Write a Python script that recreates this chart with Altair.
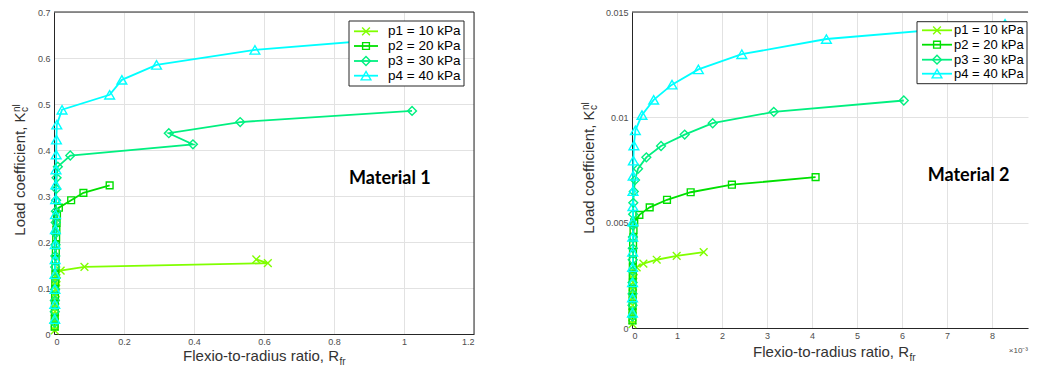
import altair as alt
import pandas as pd

# ---------------- data ----------------
series = ["p1 = 10 kPa", "p2 = 20 kPa", "p3 = 30 kPa", "p4 = 40 kPa"]
colors = ["#80ff00", "#00e000", "#00f080", "#00ffff"]
shapes = ["M-1,-1L1,1M-1,1L1,-1", "square", "diamond", "triangle-up"]
sizes = [60, 46, 78, 95]

# Material 1 (x = flexio-to-radius ratio, y = load coefficient)
m1_p1_x = [0.0020, 0.0022, 0.0024, 0.0026, 0.0028, 0.0030, 0.0033, 0.0036, 0.0039, 0.0043,
           0.0047, 0.0052, 0.0057, 0.0063, 0.0070, 0.0082, 0.019, 0.087, 0.611, 0.578]
m1_p1_y = [0.0081, 0.0162, 0.0243, 0.0324, 0.0405, 0.0486, 0.0567, 0.0648, 0.0729, 0.0810,
           0.0891, 0.0972, 0.1053, 0.1134, 0.1215, 0.1296, 0.1377, 0.1458, 0.1539, 0.1620]
m1_p2_x = [0.0020, 0.0022, 0.0024, 0.0026, 0.0029, 0.0032, 0.0035, 0.0039, 0.0043, 0.0047,
           0.0052, 0.0057, 0.0062, 0.0068, 0.0075, 0.0085, 0.014, 0.049, 0.084, 0.159]
m1_p2_y = [0.0162, 0.0323, 0.0485, 0.0646, 0.0808, 0.0969, 0.1131, 0.1292, 0.1454, 0.1615,
           0.1777, 0.1938, 0.2100, 0.2261, 0.2423, 0.2584, 0.2746, 0.2907, 0.3069, 0.3230]
m1_p3_x = [0.0020, 0.0022, 0.0025, 0.0028, 0.0031, 0.0034, 0.0038, 0.0042, 0.0046, 0.0050,
           0.0055, 0.0060, 0.0066, 0.0074, 0.011, 0.0465, 0.397, 0.328, 0.532, 1.023]
m1_p3_y = [0.0243, 0.0485, 0.0728, 0.0970, 0.1213, 0.1455, 0.1698, 0.1940, 0.2183, 0.2425,
           0.2668, 0.2910, 0.3153, 0.3395, 0.3638, 0.3880, 0.4123, 0.4365, 0.4608, 0.4850]
m1_p4_x = [0.0021, 0.0023, 0.0026, 0.0029, 0.0032, 0.0035, 0.0039, 0.0043, 0.0047, 0.0052,
           0.0057, 0.0063, 0.0070, 0.0080, 0.023, 0.159, 0.194, 0.293, 0.574, 1.10]
m1_p4_y = [0.0325, 0.0650, 0.0975, 0.1300, 0.1625, 0.1950, 0.2275, 0.2600, 0.2925, 0.3250,
           0.3575, 0.3900, 0.4225, 0.4550, 0.4875, 0.5200, 0.5525, 0.5850, 0.6175, 0.6500]

# Material 2 (x in units of 1e-3)
m2_p1_x = [0.010, 0.011, 0.012, 0.013, 0.014, 0.015, 0.016, 0.017, 0.018, 0.019,
           0.020, 0.022, 0.024, 0.028, 0.038, 0.104, 0.253, 0.549, 0.993, 1.593]
m2_p1_y = [0.00018, 0.00036, 0.00054, 0.00072, 0.00090, 0.00108, 0.00126, 0.00144, 0.00162, 0.00180,
           0.00198, 0.00216, 0.00234, 0.00252, 0.00270, 0.00288, 0.00306, 0.00324, 0.00342, 0.00360]
m2_p2_x = [0.010, 0.011, 0.012, 0.013, 0.014, 0.015, 0.016, 0.018, 0.020, 0.022,
           0.024, 0.028, 0.034, 0.050, 0.164, 0.393, 0.778, 1.304, 2.22, 4.08]
m2_p2_y = [0.000358, 0.000716, 0.001074, 0.001432, 0.001790, 0.002148, 0.002506, 0.002864, 0.003222, 0.003580,
           0.003938, 0.004296, 0.004654, 0.005012, 0.005370, 0.005728, 0.006086, 0.006444, 0.006802, 0.007160]
m2_p3_x = [0.010, 0.011, 0.012, 0.013, 0.014, 0.016, 0.018, 0.020, 0.022, 0.025,
           0.029, 0.040, 0.067, 0.134, 0.319, 0.645, 1.171, 1.793, 3.15, 6.04]
m2_p3_y = [0.00054, 0.00108, 0.00162, 0.00216, 0.00270, 0.00324, 0.00378, 0.00432, 0.00486, 0.00540,
           0.00594, 0.00648, 0.00702, 0.00756, 0.00810, 0.00864, 0.00918, 0.00972, 0.01026, 0.01080]
m2_p4_x = [0.010, 0.011, 0.012, 0.013, 0.014, 0.016, 0.018, 0.020, 0.022, 0.025,
           0.030, 0.042, 0.075, 0.222, 0.482, 0.889, 1.475, 2.44, 4.32, 8.29]
m2_p4_y = [0.000722, 0.001444, 0.002166, 0.002888, 0.003610, 0.004332, 0.005054, 0.005776, 0.006498, 0.007220,
           0.007942, 0.008664, 0.009386, 0.010108, 0.010830, 0.011552, 0.012274, 0.012996, 0.013718, 0.014440]

m1_xticks = [0, 0.2, 0.4, 0.6, 0.8, 1.0, 1.2]
m1_yticks = [0, 0.1, 0.2, 0.3, 0.4, 0.5, 0.6, 0.7]
m2_xticks = [0, 1, 2, 3, 4, 5, 6, 7, 8]
m2_yticks = [0, 0.005, 0.01, 0.015]

FONT = "Liberation Sans"
TXT = "#333333"
LW = 1.8
MW = 1.4


def long_df(xs, ys):
    rows = []
    for s, (xv, yv) in enumerate(zip(xs, ys)):
        for k, (a, b) in enumerate(zip(xv, yv)):
            rows.append(dict(series=series[s], k=k, x=a, y=b, sz=sizes[s]))
    return pd.DataFrame(rows)


def one(text=""):
    return alt.Chart(pd.DataFrame({"t": [text]}))


def txt(text, x, y, size, align="left", baseline="alphabetic", angle=0,
        color=TXT, weight="normal", font=FONT):
    return one(text).mark_text(fontSize=size, align=align, baseline=baseline,
                               angle=angle, color=color, fontWeight=weight,
                               font=font).encode(text="t:N", x=alt.value(x), y=alt.value(y))


def axis(vals, pad):
    return alt.Axis(values=vals, labelExpr="format(datum.value, '.4~g')", title=None, grid=True,
                    gridColor="#e2e2e2", gridWidth=1, ticks=False,
                    domainColor="#262626", domainWidth=1,
                    labelFontSize=9, labelColor="#4d4d4d", labelFont=FONT,
                    labelPadding=pad)


def panel(df, W, H, xdom, xvals, ydom, yvals, leg, mat, ytitle, xtitle,
          right_border=True, extra=None):
    xenc = alt.X("x:Q", scale=alt.Scale(domain=xdom, nice=False, zero=False), axis=axis(xvals, 3))
    yenc = alt.Y("y:Q", scale=alt.Scale(domain=ydom, nice=False, zero=False), axis=axis(yvals, 4))
    col = alt.Color("series:N", scale=alt.Scale(domain=series, range=colors), legend=None)
    base = alt.Chart(df)
    lines = base.mark_line(strokeWidth=LW, clip=True).encode(
        x=xenc, y=yenc, color=col, order="k:Q")
    pts = base.mark_point(filled=False, strokeWidth=MW, opacity=1).encode(
        x=xenc, y=yenc, color=col,
        shape=alt.Shape("series:N", scale=alt.Scale(domain=series, range=shapes), legend=None),
        size=alt.Size("sz:Q", scale=None))
    layers = [lines, pts]
    # frame
    layers.append(one().mark_rule(color="#262626", strokeWidth=1).encode(
        x=alt.value(0), x2=alt.value(W), y=alt.value(0)))
    if right_border:
        layers.append(one().mark_rule(color="#262626", strokeWidth=1).encode(
            x=alt.value(W), y=alt.value(0), y2=alt.value(H)))
    # legend box
    bx0, bx1, by0, by1, rows, lx0, lx1, tx, fs = leg
    layers.append(one().mark_rect(fill="white", stroke="#262626", strokeWidth=1).encode(
        x=alt.value(bx0), x2=alt.value(bx1), y=alt.value(by0), y2=alt.value(by1)))
    for i, ry in enumerate(rows):
        layers.append(one().mark_rule(color=colors[i], strokeWidth=LW).encode(
            x=alt.value(lx0), x2=alt.value(lx1), y=alt.value(ry)))
        layers.append(one().mark_point(shape=shapes[i], size=sizes[i], filled=False,
                                       color=colors[i], strokeWidth=MW, opacity=1).encode(
            x=alt.value((lx0 + lx1) / 2), y=alt.value(ry)))
        layers.append(txt(series[i], tx, ry, fs, baseline="middle", color="#000000"))
    # material label
    mtext, mx, my = mat
    layers.append(txt(mtext, mx, my, 18, weight="bold", color="#000000", font="Lato"))
    # y title
    yx, yk = ytitle
    layers.append(txt("Load coefficient, K", yx, yk, 15, align="right", angle=270))
    layers.append(txt("nl", yx - 5.5, yk - 0.5, 10, align="left", angle=270))
    layers.append(txt("c", yx + 3, yk - 0.5, 10, align="left", angle=270))
    # x title
    xe, xb = xtitle
    layers.append(txt("Flexio-to-radius ratio, R", xe, H + xb, 15, align="right"))
    layers.append(txt("fr", xe + 0.5, H + xb + 4, 10, align="left"))
    if extra is not None:
        layers.extend(extra)
    return alt.layer(*layers).properties(width=W, height=H)


df1 = long_df([m1_p1_x, m1_p2_x, m1_p3_x, m1_p4_x], [m1_p1_y, m1_p2_y, m1_p3_y, m1_p4_y])
df2 = long_df([m2_p1_x, m2_p2_x, m2_p3_x, m2_p4_x], [m2_p1_y, m2_p2_y, m2_p3_y, m2_p4_y])

W1, H1 = 420, 322
W2, H2 = 396, 316

left = panel(df1, W1, H1, [0, 1.2], m1_xticks, [0, 0.7], m1_yticks,
             (295, 410, 9, 74, [19.3, 34, 49, 63.7], 300, 324, 334, 13.5),
             ("Material 1", 295, 172), (-28.7, 100.5), (285, 27))

right = panel(df2, W2, H2, [0, 8.8], m2_xticks, [0, 0.015], m2_yticks,
              (285, 395, 9.7, 71.7, [18.3, 32.7, 47.7, 61.7], 290, 320, 322, 13),
              ("Material 2", 295.7, 169), (-38, 98.5), (277, 29),
              right_border=False,
              extra=[txt("×10⁻³", W2, H2 + 25, 8, align="right", color="#4d4d4d")])

chart = alt.hconcat(left, right, spacing=105).properties(
    padding={"left": 3, "top": 0, "right": 0, "bottom": 0},
    background="white",
).configure_view(strokeWidth=0)

chart.save("out.html", embed_options={"renderer": "svg", "actions": False})
